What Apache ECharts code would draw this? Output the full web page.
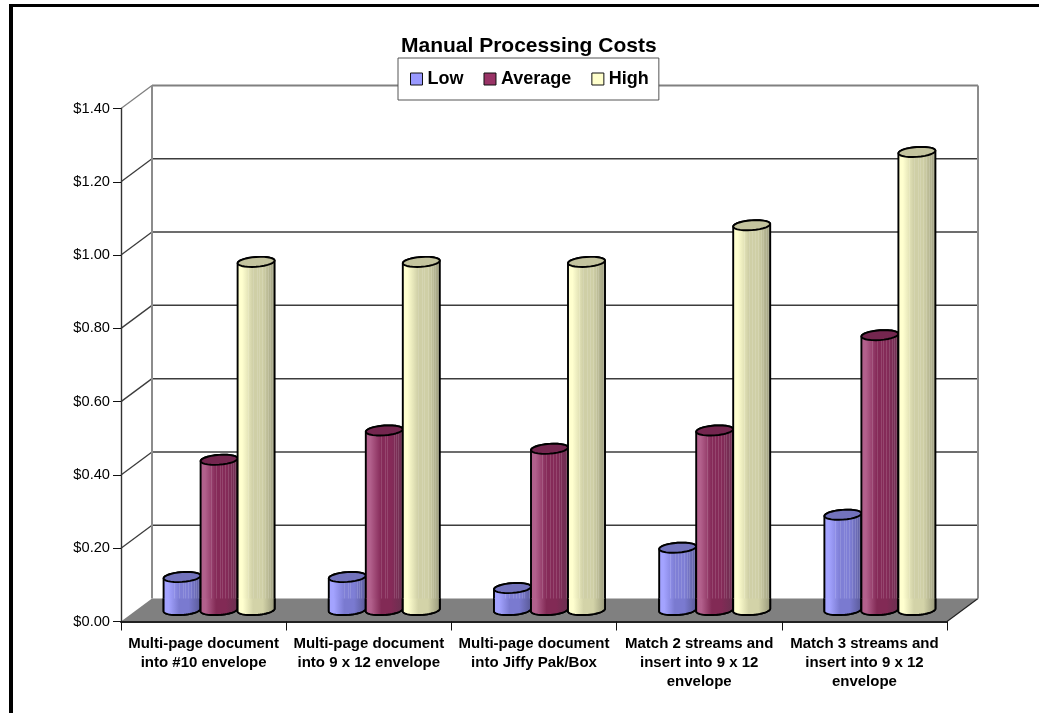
<!DOCTYPE html>
<html>
<head>
<meta charset="utf-8">
<style>html,body{margin:0;padding:0;background:#fff}#chart{width:1039px;height:713px}</style>
<script src="https://cdn.jsdelivr.net/npm/echarts@6/dist/echarts.min.js"></script>
</head>
<body>
<div id="chart"></div>
<script>
// Manual processing cost per piece, by job type
const categories = [
  'Multi-page document\ninto #10 envelope',
  'Multi-page document\ninto 9 x 12 envelope',
  'Multi-page document\ninto Jiffy Pak/Box',
  'Match 2 streams and\ninsert into 9 x 12\nenvelope',
  'Match 3 streams and\ninsert into 9 x 12\nenvelope'
];
const lowCosts = [0.09, 0.09, 0.06, 0.17, 0.26];
const averageCosts = [0.41, 0.49, 0.44, 0.49, 0.75];
const highCosts = [0.95, 0.95, 0.95, 1.05, 1.25];
const axisTicks = [0, 0.2, 0.4, 0.6, 0.8, 1.0, 1.2, 1.4];

const FONT = '"Liberation Sans", Arial, sans-serif';
const DEPTH_X = 31, DEPTH_Y = 23;     // how far the back wall sits from the front axes
const BAR_SHARE = 0.224;              // cylinder width as a share of one category band
const TILT = 2.6;                     // rise of an ellipse from its left end to its right end
const MINOR = 4.9;                    // half height of an ellipse
const EDGE = 1.9;                     // outline width of the cylinders

const chart = echarts.init(document.getElementById('chart'), null, { renderer: 'canvas' });

// Horizontal shading across a cylinder, optionally with fine light strips
function surface(left, mid, right, strip) {
  const base = [[0, left], [0.14, left], [0.42, mid], [0.68, mid], [1, right]];
  const c = echarts.color;
  const sample = t => {
    for (let i = 1; i < base.length; i++) {
      if (t <= base[i][0]) {
        const f = (t - base[i - 1][0]) / (base[i][0] - base[i - 1][0]);
        return c.lerp(f, [base[i - 1][1], base[i][1]]);
      }
    }
    return right;
  };
  let stops = base.map(s => ({ offset: s[0], color: s[1] }));
  if (strip) {
    stops = [{ offset: 0, color: left }, { offset: 0.14, color: left }];
    [0.3, 0.42, 0.52, 0.58, 0.66, 0.74, 0.8, 0.86, 0.92].forEach(m => {
      const light = c.lerp(0.13, [sample(m), '#ffffff']);
      stops.push({ offset: m, color: sample(m) });
      stops.push({ offset: m, color: light });
      stops.push({ offset: m + 0.025, color: light });
      stops.push({ offset: m + 0.025, color: sample(m + 0.025) });
    });
    stops.push({ offset: 1, color: right });
  }
  return new echarts.graphic.LinearGradient(0, 0, 1, 0, stops);
}

// Point on the tilted ellipse of a cylinder, angle in radians
function rim(cx, cy, rx, a) {
  const x = Math.cos(a);
  const y = Math.sin(a);
  return [cx + rx * x, cy + MINOR * y - (TILT / 2) * x];
}

function halfRim(cx, cy, rx, from, to) {
  const pts = [];
  const n = 28;
  for (let i = 0; i <= n; i++) pts.push(rim(cx, cy, rx, from + (to - from) * i / n));
  return pts;
}

function cylinderSeries(name, values, slot, palette) {
  return {
    type: 'custom',
    name,
    z: 3,
    clip: false,
    coordinateSystem: 'cartesian2d',
    itemStyle: { color: palette.swatch },
    encode: { x: 0, y: 1 },
    data: values.map((v, i) => [i, v]),
    renderItem(params, api) {
      const band = api.size([1, 0])[0];
      const w = band * BAR_SHARE;
      const rx = w / 2;
      const top = api.coord([api.value(0), api.value(1)]);
      const base = api.coord([api.value(0), 0]);
      const cx = top[0] + DEPTH_X / 2 + slot * w;
      const cyTop = top[1] - DEPTH_Y / 2;
      const cyBase = base[1] - DEPTH_Y / 2;
      const floorY = base[1] - DEPTH_Y;
      const leftFloor = [cx - rx, floorY];
      const rightFloor = [cx + rx, floorY];

      const body = halfRim(cx, cyBase, rx, Math.PI, 0)
        .concat(halfRim(cx, cyTop, rx, 0, -Math.PI));
      const lower = [leftFloor].concat(halfRim(cx, cyBase, rx, Math.PI, 0)).concat([rightFloor]);

      const children = [
        { type: 'polygon', shape: { points: body },
          style: { fill: surface(palette.left, palette.mid, palette.right, true), stroke: '#000', lineWidth: EDGE, lineJoin: 'round' } },
        { type: 'polygon', shape: { points: lower },
          style: { fill: surface(palette.left, palette.midLow, palette.right, false), stroke: null } },
        { type: 'polyline', shape: { points: lower },
          style: { fill: null, stroke: '#000', lineWidth: EDGE, lineJoin: 'round' } },
        { type: 'polygon', shape: { points: halfRim(cx, cyTop, rx, 0, Math.PI * 2) },
          style: { fill: palette.cap, stroke: '#000', lineWidth: EDGE, lineJoin: 'round' } }
      ];
      return { type: 'group', children };
    }
  };
}

// Floor, back wall and the gridlines that wrap round the side wall
const wallSeries = {
  type: 'custom',
  name: 'Walls',
  z: 1,
  clip: false,
  silent: true,
  encode: { x: 0, y: 1 },
  data: axisTicks.map(t => [0, t]),
  renderItem(params, api) {
    const band = api.size([1, 0])[0];
    const v = api.value(1);
    const first = api.coord([0, v]);
    const last = api.coord([categories.length - 1, v]);
    const x0 = first[0] - band / 2;
    const x1 = last[0] + band / 2;
    const y = first[1];
    const isTop = v === axisTicks[axisTicks.length - 1];
    const children = [];
    if (v === 0) {
      children.push({ type: 'polygon',
        shape: { points: [[x0, y], [x0 + DEPTH_X, y - DEPTH_Y], [x1 + DEPTH_X, y - DEPTH_Y], [x1, y]] },
        style: { fill: '#808080', stroke: null } });
      children.push({ type: 'line',
        shape: { x1: x1, y1: y, x2: x1 + DEPTH_X, y2: y - DEPTH_Y },
        style: { stroke: '#222', lineWidth: 1.2 } });
    } else {
      const colour = isTop ? '#808080' : '#3c3c3c';
      children.push({ type: 'line',
        shape: { x1: x0, y1: y, x2: x0 + DEPTH_X, y2: y - DEPTH_Y },
        style: { stroke: colour, lineWidth: 1.3 } });
      children.push({ type: 'line',
        shape: { x1: x0 + DEPTH_X, y1: y - DEPTH_Y, x2: x1 + DEPTH_X, y2: y - DEPTH_Y },
        style: { stroke: colour, lineWidth: isTop ? 2 : 1.5 } });
    }
    if (isTop) {
      const floor = api.coord([0, 0])[1] - DEPTH_Y;
      [x0 + DEPTH_X, x1 + DEPTH_X].forEach(x => {
        children.push({ type: 'line',
          shape: { x1: x, y1: y - DEPTH_Y, x2: x, y2: floor },
          style: { stroke: '#8c8c8c', lineWidth: 2 } });
      });
    }
    return { type: 'group', children };
  }
};

const legendEntry = (name, color) => ({
  name,
  icon: 'rect',
  itemStyle: { color, borderColor: '#111', borderWidth: 1 }
});

chart.setOption({
  animation: false,
  backgroundColor: '#fff',
  textStyle: { fontFamily: FONT },
  title: {
    text: 'Manual Processing Costs',
    left: 401,
    top: 36,
    padding: 0,
    textStyle: { fontFamily: FONT, fontWeight: 'bold', fontSize: 21, color: '#000' }
  },
  legend: {
    data: [legendEntry('Low', '#9999FF'), legendEntry('Average', '#993366'), legendEntry('High', '#FFFFCC')],
    left: 398,
    top: 58,
    orient: 'horizontal',
    padding: [12, 10, 12, 12],
    itemGap: 20,
    itemWidth: 12,
    itemHeight: 12,
    z: 10,
    backgroundColor: '#fff',
    borderColor: '#555',
    borderWidth: 1,
    selectedMode: false,
    textStyle: { fontFamily: FONT, fontWeight: 'bold', fontSize: 18, color: '#000' }
  },
  grid: { left: 121, right: 92, top: 108.5, bottom: 91.5 },
  xAxis: {
    type: 'category',
    data: categories,
    z: 5,
    axisLine: { onZero: false, lineStyle: { color: '#222', width: 2 } },
    axisTick: { show: true, length: 9, alignWithLabel: false, lineStyle: { color: '#111', width: 1 } },
    axisLabel: { interval: 0, margin: 13, fontFamily: FONT, fontWeight: 'bold', fontSize: 15, lineHeight: 19, color: '#000' },
    splitLine: { show: false }
  },
  yAxis: {
    type: 'value',
    min: 0,
    max: 1.4,
    interval: 0.2,
    z: 5,
    axisLine: { show: true, lineStyle: { color: '#333', width: 1.4 } },
    axisTick: { show: true, length: 8, lineStyle: { color: '#111', width: 1 } },
    axisLabel: { margin: 11, padding: [3, 0, 0, 0], fontFamily: FONT, fontSize: 14.67, color: '#000', formatter: v => '$' + v.toFixed(2) },
    splitLine: { show: false }
  },
  graphic: [
    { type: 'rect', z: 100, shape: { x: 9, y: 4, width: 4, height: 709 }, style: { fill: '#000' } },
    { type: 'rect', z: 100, shape: { x: 9, y: 4, width: 1030, height: 3 }, style: { fill: '#000' } }
  ],
  series: [
    wallSeries,
    cylinderSeries('Low', lowCosts, -1, { swatch: '#9999FF', left: '#A3A3FF', mid: '#7F7FD6', midLow: '#7A7AD0', right: '#5A5A98', cap: '#7272BC' }),
    cylinderSeries('Average', averageCosts, 0, { swatch: '#993366', left: '#B2608C', mid: '#852A58', midLow: '#822A55', right: '#6A3050', cap: '#74264F' }),
    cylinderSeries('High', highCosts, 1, { swatch: '#FFFFCC', left: '#FFFFCF', mid: '#CFCFA6', midLow: '#D3D3A8', right: '#9A9A7C', cap: '#C4C49E' })
  ]
});
</script>
</body>
</html>
